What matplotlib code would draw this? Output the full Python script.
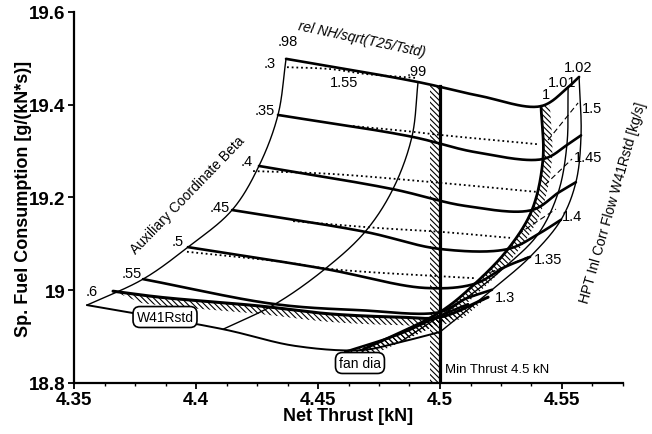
import numpy as np
import matplotlib
matplotlib.use("Agg")
import matplotlib.pyplot as plt
from matplotlib.ticker import MultipleLocator, AutoMinorLocator, FuncFormatter
from matplotlib.patches import Polygon

plt.rcParams['font.family'] = ['Liberation Sans', 'DejaVu Sans']
plt.rcParams['hatch.linewidth'] = 0.8

# ---------------- data ----------------
speeds = [0.98, 0.99, 1.00, 1.01, 1.02]            # rel NH/sqrt(T25/Tstd)
speed_labels = ['.98', '.99', '1', '1.01', '1.02']
betas = [0.30, 0.35, 0.40, 0.45, 0.50, 0.55, 0.60]  # auxiliary coordinate beta
beta_labels = ['.3', '.35', '.4', '.45', '.5', '.55', '.6']

# net thrust [kN], rows = beta, columns = speed
thrust = np.array([
    [4.4369, 4.4910, 4.5414, 4.5525, 4.5570],
    [4.4336, 4.4885, 4.5422, 4.5520, 4.5578],
    [4.4258, 4.4807, 4.5377, 4.5484, 4.5557],
    [4.4148, 4.4693, 4.5279, 4.5402, 4.5496],
    [4.3967, 4.4529, 4.5143, 4.5266, 4.5369],
    [4.3783, 4.4324, 4.5000, 4.5102, 4.5213],
    [4.3553, 4.4111, 4.4680, 4.4836, 4.5000],
])
# specific fuel consumption [g/(kN*s)]
sfc = np.array([
    [19.499, 19.449, 19.397, 19.438, 19.460],
    [19.378, 19.331, 19.283, 19.313, 19.334],
    [19.268, 19.218, 19.173, 19.210, 19.233],
    [19.173, 19.126, 19.089, 19.121, 19.152],
    [19.093, 19.046, 19.014, 19.050, 19.072],
    [19.024, 18.970, 18.953, 18.981, 19.001],
    [18.968, 18.916, 18.871, 18.888, 18.910],
])
# extra point on each beta line between speeds .99 and 1
mid_thrust = [4.5164, 4.5143, 4.5102, 4.5000, 4.4939, 4.4672, 4.4406]
mid_sfc = [19.419, 19.298, 19.182, 19.089, 19.005, 18.957, 18.880]

# HPT inlet corrected flow W41Rstd contours [kg/s]
w41_levels = ['1.55', '1.5', '1.45', '1.4', '1.35']
w41_dot_thrust = [
    [4.4373, 4.4549, 4.4701, 4.4898],
    [4.4643, 4.4865, 4.5000, 4.5398],
    [4.4234, 4.4549, 4.4971, 4.5398],
    [4.4398, 4.4754, 4.5000, 4.5287],
    [4.3963, 4.4357, 4.4549, 4.5041, 4.5143],
]
w41_dot_sfc = [
    [19.481, 19.477, 19.466, 19.458],
    [19.354, 19.343, 19.335, 19.315],
    [19.257, 19.251, 19.233, 19.212],
    [19.149, 19.134, 19.126, 19.113],
    [19.083, 19.061, 19.046, 19.029, 19.026],
]
w41_dash_thrust = [None, [4.5443, 4.5566], [4.5430, 4.5541], [4.5320, 4.5475], [4.5172, 4.5361]]
w41_dash_sfc = [None, [19.324, 19.404], [19.227, 19.283], [19.121, 19.175], [19.031, 19.072]]

# constraint lines
w41_limit_label = '1.3'
w41_limit_thrust = [4.3660, 4.3852, 4.4262, 4.4549, 4.4836, 4.5000, 4.5197]
w41_limit_sfc = [18.998, 18.985, 18.966, 18.949, 18.942, 18.942, 18.985]
fan_thrust = [4.4611, 4.4836, 4.5000, 4.5115]
fan_sfc = [18.867, 18.906, 18.945, 18.970]
min_thrust = 4.5
min_thrust_top = 19.44

# ---------------- figure ----------------
fig = plt.figure(figsize=(6.52, 4.35), dpi=100)
ax = fig.add_axes([74 / 652, 51 / 435, 549 / 652, 371 / 435])
ax.set_xlim(4.35, 4.575)
ax.set_ylim(18.8, 19.6)
for s in ('top', 'right'):
    ax.spines[s].set_visible(False)
for s in ('left', 'bottom'):
    ax.spines[s].set_linewidth(1.6)

ax.xaxis.set_major_locator(MultipleLocator(0.05))
ax.xaxis.set_minor_locator(AutoMinorLocator(4))
ax.yaxis.set_major_locator(MultipleLocator(0.2))
fmt = FuncFormatter(lambda v, p: '%g' % round(v, 3))
ax.xaxis.set_major_formatter(fmt)
ax.yaxis.set_major_formatter(fmt)
ax.tick_params(which='major', direction='out', length=4, width=1.3, labelsize=13.5, pad=2)
ax.tick_params(which='minor', direction='out', length=2.5, width=1.0)
for lab in ax.get_xticklabels() + ax.get_yticklabels():
    lab.set_fontweight('bold')

ax.set_xlabel('Net Thrust [kN]', fontsize=13, fontweight='bold', va='top')
ax.set_ylabel('Sp. Fuel Consumption [g/(kN*s)]', fontsize=13, fontweight='bold')
ax.xaxis.set_label_coords(0.5, -0.064)
ax.yaxis.set_label_coords(-0.077, 0.5)

fig.canvas.draw()
T = ax.transData
Ti = ax.transData.inverted()


def smooth_px(xd, yd, n=30):
    P = T.transform(np.column_stack([xd, yd]))
    if len(P) == 2:
        t = np.linspace(0, 1, n)[:, None]
        return P[0] * (1 - t) + P[1] * t
    pts = np.vstack([2 * P[0] - P[1], P, 2 * P[-1] - P[-2]])
    out = []
    for i in range(1, len(pts) - 2):
        p0, p1, p2, p3 = pts[i - 1:i + 3]
        t0 = 0.0
        t1 = t0 + max(np.linalg.norm(p1 - p0), 1e-6) ** 0.5
        t2 = t1 + max(np.linalg.norm(p2 - p1), 1e-6) ** 0.5
        t3 = t2 + max(np.linalg.norm(p3 - p2), 1e-6) ** 0.5
        t = np.linspace(t1, t2, n)[:, None]
        A1 = (t1 - t) / (t1 - t0) * p0 + (t - t0) / (t1 - t0) * p1
        A2 = (t2 - t) / (t2 - t1) * p1 + (t - t1) / (t2 - t1) * p2
        A3 = (t3 - t) / (t3 - t2) * p2 + (t - t2) / (t3 - t2) * p3
        B1 = (t2 - t) / (t2 - t0) * A1 + (t - t0) / (t2 - t0) * A2
        B2 = (t3 - t) / (t3 - t1) * A2 + (t - t1) / (t3 - t1) * A3
        C = (t2 - t) / (t2 - t1) * B1 + (t - t1) / (t2 - t1) * B2
        out.append(C if i == 1 else C[1:])
    return np.vstack(out)


def curve(xd, yd, **kw):
    Q = Ti.transform(smooth_px(xd, yd))
    ax.plot(Q[:, 0], Q[:, 1], solid_capstyle='round', **kw)


def band(xd, yd, width, side, taper=0.0, zorder=2):
    C = smooth_px(xd, yd)
    d = np.gradient(C, axis=0)
    d /= np.linalg.norm(d, axis=1)[:, None]
    nrm = np.column_stack([-d[:, 1], d[:, 0]]) * side
    s = np.concatenate([[0], np.cumsum(np.linalg.norm(np.diff(C, axis=0), axis=1))])
    s /= s[-1]
    w = np.full(len(C), float(width))
    if taper > 0:
        w *= np.clip(np.minimum(s, 1 - s) / taper, 0.15, 1.0)
    O = C + nrm * w[:, None]
    poly = Ti.transform(np.vstack([C, O[::-1]]))
    ax.add_patch(Polygon(poly, closed=True, facecolor='none', edgecolor='black',
                         linewidth=0, hatch='\\\\\\\\\\\\', zorder=zorder))


# hatched constraint bands
band([min_thrust, min_thrust], [18.8, min_thrust_top], 10, +1)
band(thrust[:, 2], sfc[:, 2], 9, +1)
band(w41_limit_thrust, w41_limit_sfc, 8, -1, taper=0.08)
band(fan_thrust, fan_sfc, 7, -1, taper=0.1)

ax.plot([min_thrust, min_thrust], [18.8, min_thrust_top], color='black', lw=2.3, zorder=4)
curve(w41_limit_thrust, w41_limit_sfc, color='black', lw=2.2, zorder=4)
curve(fan_thrust, fan_sfc, color='black', lw=1.8, zorder=4)

# carpet: constant beta lines (thick)
for i in range(len(betas)):
    xs = [thrust[i, 0], thrust[i, 1], mid_thrust[i], thrust[i, 2], thrust[i, 3], thrust[i, 4]]
    ys = [sfc[i, 0], sfc[i, 1], mid_sfc[i], sfc[i, 2], sfc[i, 3], sfc[i, 4]]
    curve(xs, ys, color='black', lw=1.9 if i < 6 else 1.4, zorder=3)

# carpet: constant speed lines (thin)
for j in range(len(speeds)):
    curve(thrust[:, j], sfc[:, j], color='black', lw=2.0 if j == 2 else 1.0, zorder=3)

# W41Rstd contours
for k in range(len(w41_levels)):
    curve(w41_dot_thrust[k], w41_dot_sfc[k], color='black', lw=1.3,
          linestyle=(0, (1, 1.6)), zorder=3)
    if w41_dash_thrust[k] is not None:
        curve(w41_dash_thrust[k], w41_dash_sfc[k], color='black', lw=0.8,
              linestyle=(0, (5, 3)), zorder=3)

# ---------------- labels ----------------
lab_kw = dict(textcoords='offset pixels', ha='center', va='center', fontsize=10.5)
speed_off = [(2, 18), (-1, 11), (5, 12), (-6, 5), (-1, 10)]
for j, lab in enumerate(speed_labels):
    ax.annotate(lab, (thrust[0, j], sfc[0, j]), xytext=speed_off[j], **lab_kw)
beta_off = [(-16, -4), (-13, 5), (-12, 5), (-12, 3), (-10, 6), (-11, 6), (5, 14)]
for i, lab in enumerate(beta_labels):
    ax.annotate(lab, (thrust[i, 0], sfc[i, 0]), xytext=beta_off[i], **lab_kw)

ax.annotate(w41_levels[0], (w41_dot_thrust[0][0], w41_dot_sfc[0][0]), xytext=(57, -15), **lab_kw)
w41_off = [None, (14, -5), (16, 2), (16, -7), (20, -2)]
for k in range(1, len(w41_levels)):
    ax.annotate(w41_levels[k], (w41_dash_thrust[k][-1], w41_dash_sfc[k][-1]),
                xytext=w41_off[k], **lab_kw)
ax.annotate(w41_limit_label, (w41_limit_thrust[-1], w41_limit_sfc[-1]), xytext=(17, 0), **lab_kw)

box = dict(boxstyle='round,pad=0.25,rounding_size=0.5', facecolor='white',
           edgecolor='black', linewidth=1.2)
ax.text(4.3873, 18.9423, 'W41Rstd', fontsize=10, ha='center', va='center', bbox=box, zorder=6)
ax.text(4.4672, 18.8431, 'fan dia', fontsize=10, ha='center', va='center', bbox=box, zorder=6)
ax.text(4.5020, 18.830, 'Min Thrust 4.5 kN', fontsize=9.5, ha='left', va='center', zorder=6)

ax.text(4.4680, 19.5418, 'rel NH/sqrt(T25/Tstd)', fontsize=10, fontstyle='italic',
        rotation=-12, ha='center', va='center', rotation_mode='anchor')
ax.text(4.3967, 19.2075, 'Auxiliary Coordinate Beta', fontsize=10,
        rotation=46, ha='center', va='center', rotation_mode='anchor')
ax.text(4.5709, 19.1903, 'HPT Inl Corr Flow W41Rstd [kg/s]', fontsize=10,
        rotation=74, ha='center', va='center', rotation_mode='anchor', clip_on=False)

fig.savefig('out.png', dpi=100)
